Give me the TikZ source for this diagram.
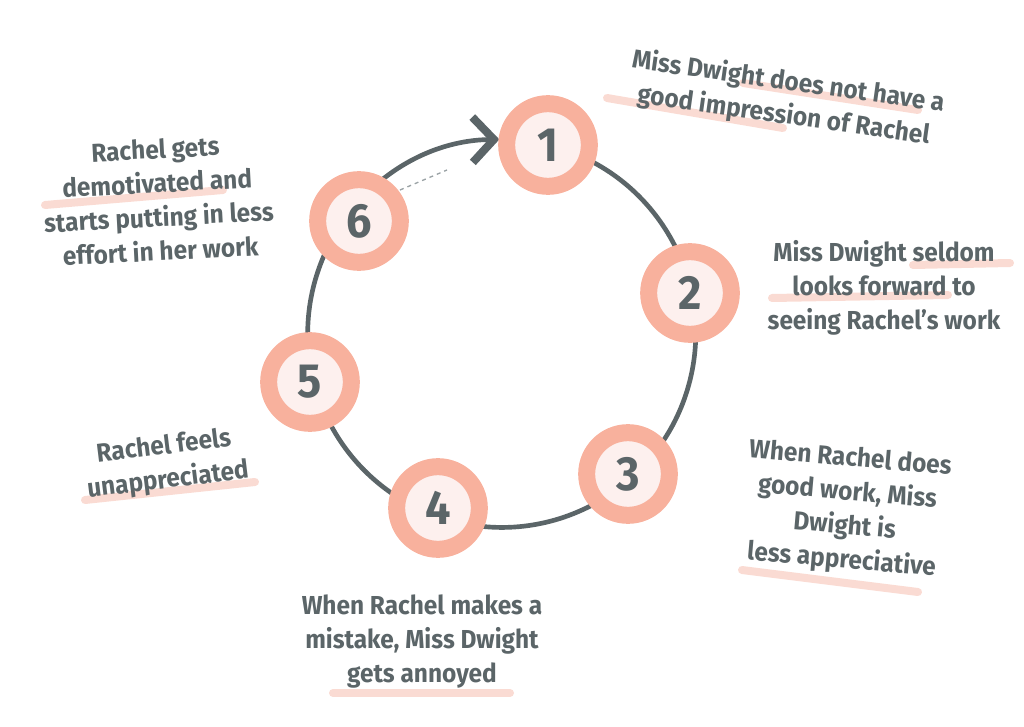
\documentclass[tikz,border=0pt]{standalone}
\usepackage{fontspec}
\setmainfont{Fira Sans}[FakeStretch=0.94]
\usetikzlibrary{arrows.meta}
\definecolor{salmon}{HTML}{F8B19D}
\definecolor{innerfill}{HTML}{FDF0EE}
\definecolor{ink}{HTML}{5B6568}
\definecolor{hl}{HTML}{FADBD3}
\definecolor{faint}{HTML}{9AA2A5}
\pgfdeclarelayer{bg}
\pgfsetlayers{bg,main}
\tikzset{
 stage/.style={circle, draw=salmon, line width=12.75pt, fill=innerfill, minimum size=62pt, inner sep=0pt, text=ink, font=\bfseries\fontsize{36}{36}\selectfont},
 lbl/.style={text=ink, align=center, font=\bfseries\fontsize{19.5}{25.5}\selectfont},
 ring/.style={draw=ink, line width=3.5pt, line cap=round},
 hilite/.style={draw=hl, line width=6pt, line cap=round},
}
\begin{document}
\begin{tikzpicture}[x=0.75pt,y=0.75pt]
\useasboundingbox (0,0) rectangle (1024,726);
% stages
\node[stage] (n1) at (548,581) {1};
\node[stage] (n2) at (690,433) {2};
\node[stage] (n3) at (628,252) {3};
\node[stage] (n4) at (438,218) {4};
\node[stage] (n5) at (310,344) {5};
\node[stage] (n6) at (359,505) {6};
% labels
\node[lbl, rotate=-8] (t1) at (786,627) {Miss Dwight does not have a\\good impression of Rachel};
\node[lbl] (t2) at (884,438) {Miss Dwight seldom\\looks forward to\\seeing Rachel's work};
\node[lbl, rotate=-5] (t3) at (846,216) {When Rachel does\\good work, Miss\\Dwight is\\less appreciative};
\node[lbl] (t4) at (422,84) {When Rachel makes a\\mistake, Miss Dwight\\gets annoyed};
\node[lbl, rotate=7] (t5) at (166,262) {Rachel feels\\unappreciated};
\node[lbl, rotate=3] (t6) at (158,526) {Rachel gets\\demotivated and\\starts putting in less\\effort in her work};
\coordinate (d1) at (400,536);
\coordinate (d2) at (447,556);
\begin{pgfonlayer}{bg}
 % the cycle: a circle through 1,2,3,4,5,6 and back to 1 with an arrow
 \draw[ring, -{Straight Barb[length=16pt, width=34pt, line width=6pt]}]
   (n1.center) arc[start angle=76.2, delta angle=-345.5, radius=194];
 \draw[faint, line width=1pt, dashed] (d1) -- (d2);
 % highlights
 \draw[hilite] (743,643) -- (918,616);
 \draw[hilite] (607,628) -- (783,598);
 \draw[hilite] (45,521) -- (223,536);
 \draw[hilite] (913,461) -- (1010,463);
 \draw[hilite] (772,428) -- (948,431);
 \draw[hilite] (742,156) -- (918,134);
 \draw[hilite] (333,33) -- (510,33);
 \draw[hilite] (85,226) -- (255,244);
\end{pgfonlayer}
\end{tikzpicture}
\end{document}
